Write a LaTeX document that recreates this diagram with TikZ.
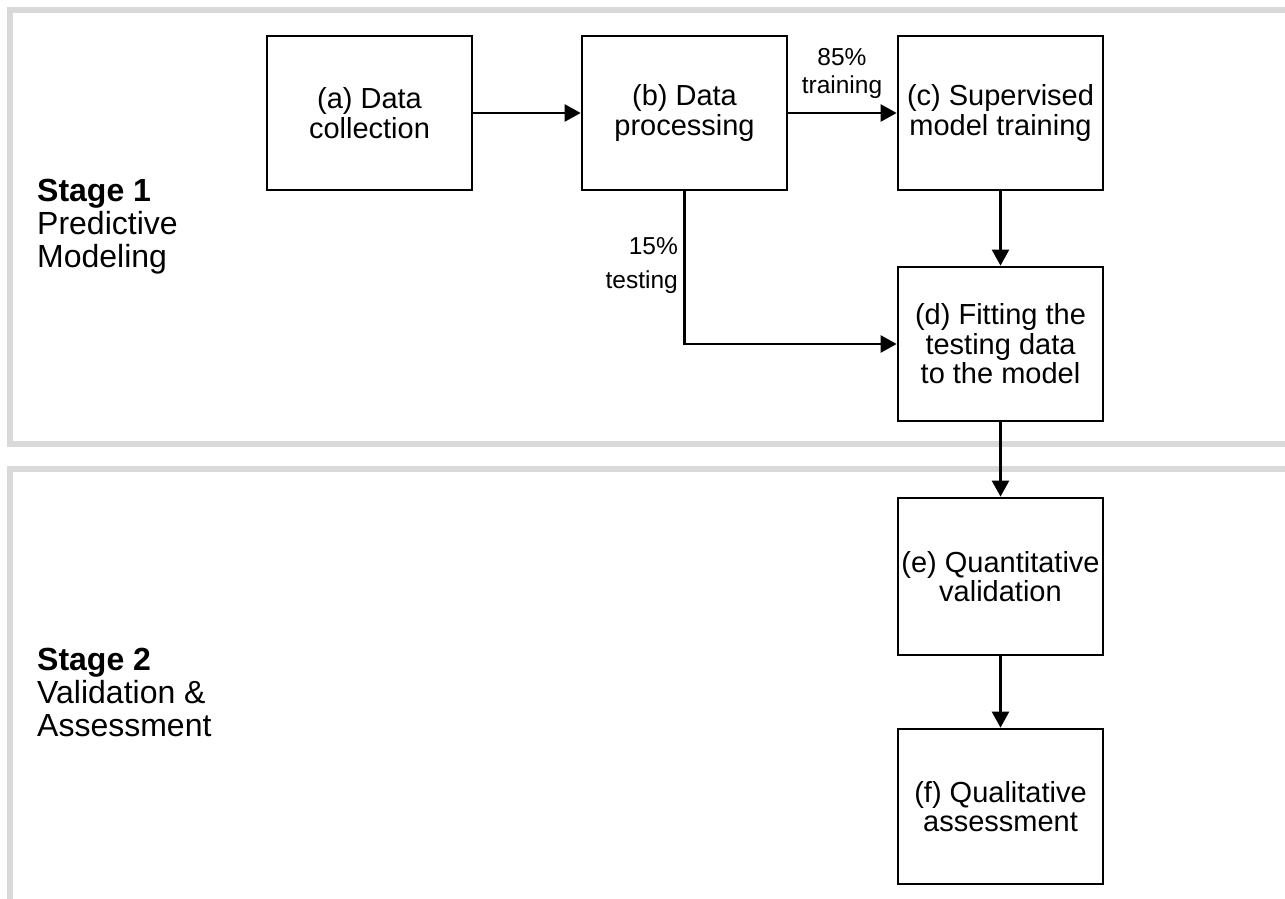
\documentclass[tikz,border=0pt]{standalone}
\usepackage{fontspec}
\setmainfont{Liberation Sans}
\usetikzlibrary{arrows.meta}
\definecolor{panelgray}{HTML}{D9D9D9}
\tikzset{
  panel/.style={draw=panelgray, line width=6pt},
  stepbox/.style={draw=black, line width=2.7pt, minimum width=205pt, align=center,
    font=\fontsize{29}{29.5}\selectfont, inner sep=0pt},
  conn/.style={line width=2.5pt, -{Triangle[length=16pt,width=17pt]}},
  lbl/.style={align=center, font=\fontsize{24.5}{28}\selectfont, inner sep=0pt},
  stagetxt/.style={align=left, anchor=base west, font=\fontsize{32}{33}\selectfont, inner sep=0pt}
}
\begin{document}
\begin{tikzpicture}[x=1pt,y=-1pt]
\useasboundingbox (0,0) rectangle (1285,899);
\begin{scope}
\clip (0,0) rectangle (1285,899);
\draw[panel] (10,10) rectangle (1290,444);
\draw[panel] (10,469) rectangle (1290,960);
\end{scope}
\node[stepbox, minimum height=154pt] (a) at (369.5,113) {(a) Data\\collection};
\node[stepbox, minimum height=154pt] (b) at (684.5,113) {(b) Data\\processing};
\node[stepbox, minimum height=154pt] (c) at (1000.5,113) {(c) Supervised\\model training};
\node[stepbox, minimum height=154pt] (d) at (1000.5,344) {(d) Fitting the\\testing data\\to the model};
\node[stepbox, minimum height=157pt] (e) at (1000.5,576.5) {(e) Quantitative\\validation};
\node[stepbox, minimum height=155pt] (f) at (1000.5,806.5) {(f) Qualitative\\assessment};
\draw[conn] (a) -- (b);
\draw[conn] (b) -- (c);
\draw[conn] (c) -- (d);
\draw[conn] (b.south) |- (d.west);
\draw[conn] (d) -- (e);
\draw[conn] (e) -- (f);
\node[lbl] (l85) at (842,73) {85\%\\training};
\node[lbl, align=right, anchor=east, font=\fontsize{24.5}{34}\selectfont] (l15) at (678,266) {15\%\\testing};
\node[stagetxt] (s1) at (37,267.5) {\textbf{Stage 1}\\Predictive\\Modeling};
\node[stagetxt] (s2) at (37,736.5) {\textbf{Stage 2}\\Validation \&\\Assessment};
\end{tikzpicture}
\end{document}
